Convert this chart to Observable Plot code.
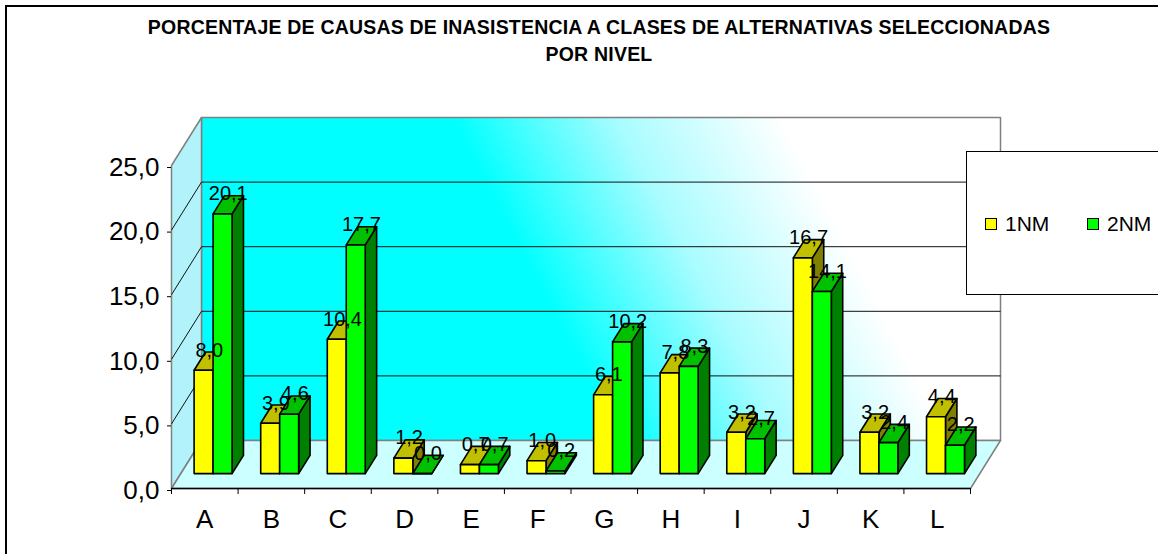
<!DOCTYPE html>
<html><head><meta charset="utf-8">
<script src="https://cdn.jsdelivr.net/npm/d3@7"></script>
<script src="https://cdn.jsdelivr.net/npm/@observablehq/plot@0.6"></script>
<style>
html,body{margin:0;padding:0;background:#fff;overflow:hidden;}
#wrap{position:relative;width:1158px;height:554px;overflow:hidden;font-family:"Liberation Sans",Arial,sans-serif;color:#000;}
#chart{position:absolute;left:0;top:0;}
#frame{position:absolute;left:5px;top:5px;width:1300px;height:700px;border-left:2px solid #000;border-top:2px solid #000;box-sizing:border-box;}
#title{position:absolute;left:0;top:14px;width:1198px;text-align:center;font-weight:bold;font-size:19.5px;letter-spacing:0.2px;line-height:27px;}
#legend{position:absolute;left:966px;top:151px;width:260px;height:144px;border:1px solid #000;background:#fff;box-sizing:border-box;}
.sw{position:absolute;top:66px;width:12px;height:12px;border:1px solid #000;box-sizing:border-box;}
.lt{position:absolute;top:59px;font-size:21px;line-height:26px;}
</style></head>
<body>
<div id="wrap">
  <div id="chart"></div>
  <div id="frame"></div>
  <div id="title"></div>
  <div id="legend"></div>
</div>
<script>
// ---- data ----
const categories = ["A","B","C","D","E","F","G","H","I","J","K","L"];
const nm1 = [8.0, 3.9, 10.4, 1.2, 0.7, 1.0, 6.1, 7.8, 3.2, 16.7, 3.2, 4.4];
const nm2 = [20.1, 4.6, 17.7, 0.0, 0.7, 0.2, 10.2, 8.3, 2.7, 14.1, 2.4, 2.2];
const seriesNames = ["1NM", "2NM"];
const yTicks = [0, 5, 10, 15, 20, 25];
const titleLines = ["PORCENTAJE DE CAUSAS DE INASISTENCIA A CLASES DE ALTERNATIVAS SELECCIONADAS", "POR NIVEL"];

// ---- styles ----
const faceColors = [
  {front: "#ffff00", top: "#c0c000", side: "#808000"},
  {front: "#00ff00", top: "#00c000", side: "#008000"}
];

// ---- layout ----
const W = 1158, H = 554;
const mL = 171, mR = 188, mT = 165, mB = 66;
const nCat = categories.length;
const yMax = 25;
const xPx = (W - mL - mR) / nCat, yPx = (H - mT - mB) / yMax;
const DDX = 30 / xPx, DDY = 48 / yPx;      // full depth, in data units
const d0 = 0.31, d1 = 0.69;               // bar depth span
const BAR_OFF = 0.2, BAR_W = 0.285;
const P = (x, y, d) => ({x: x + d * DDX, y: y + d * DDY});
const poly = (id, pts) => pts.map(p => ({id, ...P(...p)}));
const fmt = v => v.toFixed(1).replace(".", ",");

const values = [nm1, nm2];
const faces = values.map((vals, s) => {
  const front = [], top = [], side = [];
  vals.forEach((v, i) => {
    const x0 = i + BAR_OFF + s * BAR_W, x1 = x0 + BAR_W;
    front.push(...poly(`f${s}-${i}`, [[x0,0,d0],[x1,0,d0],[x1,v,d0],[x0,v,d0]]));
    top.push(...poly(`t${s}-${i}`, [[x0,v,d0],[x1,v,d0],[x1,v,d1],[x0,v,d1]]));
    side.push(...poly(`s${s}-${i}`, [[x1,0,d0],[x1,0,d1],[x1,v,d1],[x1,v,d0]]));
  });
  return {front, top, side};
});

const sideWall = poly("sw", [[0,0,0],[0,0,1],[0,yMax,1],[0,yMax,0]]);
const floor = poly("fl", [[0,0,0],[nCat,0,0],[nCat,0,1],[0,0,1]]);
const backWall = poly("bw", [[0,0,1],[nCat,0,1],[nCat,yMax,1],[0,yMax,1]]);
const gridVals = yTicks.filter(v => v > 0 && v < yMax);

const barMarks = [];
faces.forEach((f, s) => {
  const c = faceColors[s];
  for (const k of ["side", "top", "front"]) {
    barMarks.push(Plot.line(f[k], {x: "x", y: "y", z: "id", fill: c[k], stroke: "#000", strokeWidth: 1.6, strokeLinejoin: "round", curve: "linear-closed"}));
  }
});
const labelMarks = values.map((vals, s) => Plot.text(vals, {
  x: (v, i) => i + BAR_OFF + s * BAR_W + BAR_W / 2 + 0.5 * DDX,
  y: v => v + 0.5 * DDY,
  text: v => fmt(v), dy: -11, fontSize: 20, fill: "#000"
}));

const chart = Plot.plot({
  width: W, height: H,
  marginLeft: mL, marginRight: mR, marginTop: mT, marginBottom: mB,
  style: {fontFamily: '"Liberation Sans", Arial, sans-serif', color: "#000", background: "transparent", overflow: "visible"},
  x: {domain: [0, nCat], label: null},
  y: {domain: [0, yMax], label: null},
  marks: [
    Plot.line(backWall, {x: "x", y: "y", z: "id", fill: "url(#wallGrad)", stroke: "#808080", strokeWidth: 1.5, curve: "linear-closed"}),
    Plot.line(sideWall, {x: "x", y: "y", z: "id", fill: "#b2f3fb", stroke: "#808080", strokeWidth: 1.5, curve: "linear-closed"}),
    Plot.line(floor, {x: "x", y: "y", z: "id", fill: "#ccffff", stroke: "#808080", strokeWidth: 1.5, curve: "linear-closed"}),
    Plot.link(gridVals, {x1: () => DDX, x2: () => nCat + DDX, y1: v => v + DDY, y2: v => v + DDY, stroke: "#111", strokeWidth: 1}),
    Plot.link(gridVals, {x1: () => 0, x2: () => DDX, y1: v => v, y2: v => v + DDY, stroke: "#111", strokeWidth: 1}),
    Plot.ruleY([0], {x1: 0, x2: nCat, stroke: "#000", strokeWidth: 1.5}),
    Plot.axisY(yTicks, {tickFormat: fmt, tickSize: 4, tickPadding: 8, fontSize: 26, dy: 2, label: null, stroke: "#000"}),
    Plot.axisX(d3.range(nCat + 1), {tickFormat: () => "", tickSize: 6, label: null, stroke: "#000"}),
    Plot.text(categories, {x: (d, i) => i + 0.5, y: () => 0, dy: 31, fontSize: 26, fill: "#000"}),
    ...barMarks,
    ...labelMarks
  ]
});

// gradient for back wall (cyan at left, fading to white towards upper right)
const sx = chart.scale("x"), sy = chart.scale("y");
const gx1 = sx.apply(4.19), gy1 = sy.apply(28.7), gx2 = sx.apply(8.07), gy2 = sy.apply(39.2);
const defs = d3.select(chart).insert("defs", ":first-child");
const g = defs.append("linearGradient").attr("id", "wallGrad").attr("gradientUnits", "userSpaceOnUse")
  .attr("x1", gx1).attr("y1", gy1).attr("x2", gx2).attr("y2", gy2);
g.append("stop").attr("offset", 0).attr("stop-color", "#00ffff");
g.append("stop").attr("offset", 0.5).attr("stop-color", "#a8fcff");
g.append("stop").attr("offset", 1).attr("stop-color", "#ffffff");

document.getElementById("chart").appendChild(chart);

// title
const t = document.getElementById("title");
titleLines.forEach(l => { const d = document.createElement("div"); d.textContent = l; t.appendChild(d); });

// legend
const lg = document.getElementById("legend");
seriesNames.forEach((n, s) => {
  const sw = document.createElement("div"); sw.className = "sw";
  sw.style.left = (18 + s * 102) + "px"; sw.style.background = faceColors[s].front;
  const tx = document.createElement("div"); tx.className = "lt";
  tx.style.left = (38 + s * 102) + "px"; tx.textContent = n;
  lg.appendChild(sw); lg.appendChild(tx);
});
</script>
</body></html>
